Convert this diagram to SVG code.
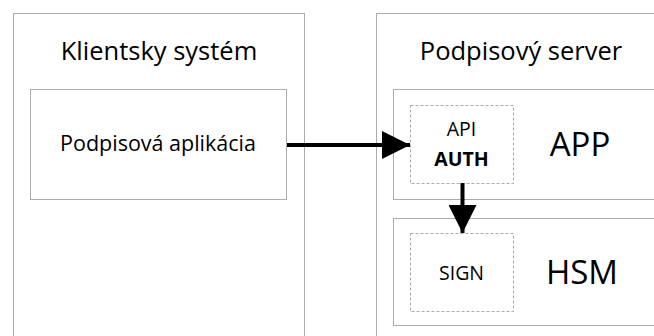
<svg xmlns="http://www.w3.org/2000/svg" width="654" height="336" viewBox="0 0 654 336">
<defs>
<style>
.box{fill:#fff;stroke:#ababab;stroke-width:1}
.dash{fill:#fff;stroke:#ababab;stroke-width:1;stroke-dasharray:3,2}
text{font-family:"Open Sans","Liberation Sans",sans-serif;fill:#000;text-anchor:middle}
.title{font-size:25.5px}
.lbl{font-size:21.5px}
.big{font-size:33px}
.sm{font-size:19.5px}
.conn{stroke:#000;stroke-width:4;fill:none}
</style>
<marker id="ah" viewBox="0 0 10 10" refX="10" refY="5" markerWidth="7" markerHeight="7" markerUnits="strokeWidth" orient="auto">
<path d="M0,0 L10,5 L0,10 z" fill="#000"/>
</marker>
</defs>
<rect width="654" height="336" fill="#fff"/>
<g id="client">
<rect class="box" x="13.5" y="13.5" width="291" height="340"/>
<text class="title" x="159" y="60">Klientsky systém</text>
</g>
<g id="app-client">
<rect class="box" x="30.5" y="89.5" width="256" height="110"/>
<text class="lbl" x="158" y="151">Podpisová aplikácia</text>
</g>
<g id="server">
<rect class="box" x="376.5" y="13.5" width="290" height="340"/>
<text class="title" x="521" y="60">Podpisový server</text>
</g>
<g id="app">
<rect class="box" x="393.5" y="89.5" width="270" height="110"/>
<text class="big" x="580" y="156">APP</text>
</g>
<g id="api">
<rect class="dash" x="410.5" y="105.5" width="103" height="78"/>
<text class="sm" x="461.5" y="136">API</text>
<text class="sm" x="461.5" y="166" font-weight="bold">AUTH</text>
</g>
<g id="hsm">
<rect class="box" x="393.5" y="218.5" width="270" height="107"/>
<text class="big" x="582" y="284">HSM</text>
</g>
<g id="sign">
<rect class="dash" x="410.5" y="233.5" width="103" height="78"/>
<text class="sm" x="461.5" y="280">SIGN</text>
</g>
<g id="connectors">
<line class="conn" x1="287" y1="145" x2="410" y2="145" marker-end="url(#ah)"/>
<line class="conn" x1="462.5" y1="183" x2="462.5" y2="233" marker-end="url(#ah)"/>
</g>
</svg>
